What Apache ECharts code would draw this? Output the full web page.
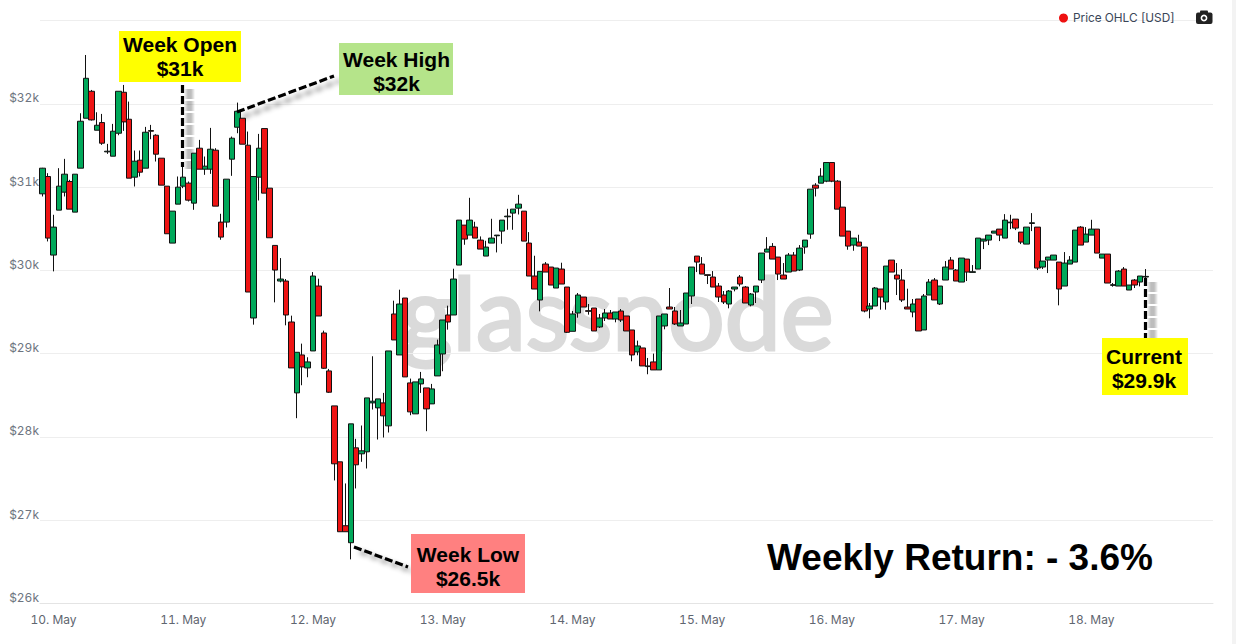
<!DOCTYPE html>
<html><head><meta charset="utf-8">
<style>html,body{margin:0;padding:0;background:#fff;font-variant-numeric:tabular-nums;font-feature-settings:"tnum"}#c{width:1236px;height:644px}</style>
<script src="https://cdn.jsdelivr.net/npm/echarts@6/dist/echarts.min.js"></script>
</head><body><div id="c"></div>
<script>
const dayLabels=['10. May','11. May','12. May','13. May','14. May','15. May','16. May','17. May','18. May'];
const yTicks=[26000,27000,28000,29000,30000,31000,32000,33000];
const opens=[30920,31128,30184,30724,30940,31068,30700,31228,31828,32152,
31684,31776,31424,31372,31648,32140,31816,31120,31324,31228,
31680,31624,31348,31012,30328,30796,31012,31048,30808,31468,
31216,31216,31444,30580,30580,31336,31720,31828,31504,29428,
31120,31704,30988,30300,29872,29872,29380,28528,28984,28828,
29032,29812,29248,28792,28372,27700,26932,26728,27868,27796,
27820,28408,28348,28408,28132,29476,28984,29668,28648,28276,
28636,28588,28396,28732,28996,29464,29464,30064,30544,30424,
30520,30364,30172,30328,30416,30472,30644,30688,30748,30712,
30328,29932,29644,30076,30040,29788,30016,29800,29268,29488,
29680,29516,29548,29320,29428,29488,29416,29512,29452,29284,
29020,29068,28852,28900,28804,29332,29560,29512,29332,29356,
29692,30172,30076,29948,29920,29812,29704,29596,29776,29920,
29800,29584,29740,29884,30220,30288,30160,29944,29980,30184,
30004,30280,30436,31024,31048,31072,31296,31072,30760,30472,
30304,30340,30280,29536,29572,29776,29620,30124,29944,29884,
29560,29500,29656,29284,29704,29884,29596,29884,30124,30004,
29860,30136,29976,30016,30352,30364,30448,30496,30388,30572,
30616,30460,30316,30564,30520,30040,30124,30124,30100,29812,
30076,30100,30520,30340,30424,30496,30148,30196,29820,29812,
30016,29764,29884,29860,29920];
const closes=[31228,30388,30520,31012,31156,30736,31156,31792,32308,31808,
31744,31528,31432,31672,32152,31784,31108,31312,31180,31660,
31672,31396,31024,30440,30712,31000,31120,30844,31408,31216,
31252,31456,30772,30400,31096,31588,31912,31516,29740,31128,
31468,30928,30392,30004,29896,29464,28828,29016,28840,28900,
29932,29452,28824,28536,27676,26860,26860,28156,27664,27832,
28468,28428,28456,28252,29032,29164,29596,28720,28300,28660,
28696,28336,28576,29104,29404,29380,29896,30604,30376,30604,
30388,30256,30280,30388,30424,30604,30652,30736,30796,30352,
29932,29776,29988,29980,29824,30028,29836,29256,29476,29704,
29560,29508,29272,29428,29488,29416,29500,29404,29272,28984,
29092,28852,28844,28804,29452,29476,29536,29356,29368,29728,
30040,30100,29956,29940,29800,29680,29620,29752,29800,29836,
29608,29716,29812,30208,30256,30136,29956,29896,30184,29992,
30268,30364,30976,30988,31132,31296,31072,30736,30412,30292,
30388,30292,29512,29572,29788,29680,30052,29980,29896,29644,
29536,29596,29272,29692,29860,29644,29812,30040,30016,29872,
30148,29980,29984,30388,30376,30424,30472,30424,30604,30580,
30508,30340,30520,30572,30028,30112,30160,30184,29776,30088,
30124,30484,30304,30436,30496,30208,30196,29848,29828,29992,
29812,29824,29824,29932,29928];
const highs=[31232,31168,30668,31228,31340,31088,31156,31888,32588,32168,
31900,31880,31520,31760,32152,32228,32028,31440,31440,31724,
31748,31636,31348,31012,30712,31128,31248,31068,31408,31568,
31368,31712,31468,30680,31096,31608,32016,31828,31668,31128,
31640,31704,30988,30300,30148,29896,29456,29016,29120,28956,
29980,29900,29276,28816,28372,27700,27440,28156,27976,28136,
28468,28968,28456,28528,29032,29636,29768,29668,28700,28660,
28780,28588,28636,29168,29404,29576,30020,30604,30544,30872,
30584,30408,30356,30620,30424,30604,30740,30736,30908,30712,
30460,30176,29988,30100,30040,30028,30092,29800,29512,29728,
29680,29596,29548,29476,29536,29524,29500,29536,29452,29284,
29156,29068,28948,29000,29452,29476,29788,29560,29524,29728,
30040,30172,30160,29948,29992,29848,29752,29764,29800,29944,
29812,29728,29812,30208,30400,30328,30160,30088,30208,30220,
30304,30364,30976,31048,31228,31296,31296,31084,30760,30472,
30388,30428,30280,29608,29800,29776,30052,30124,30088,30016,
29780,29656,29656,29716,29896,29908,29812,30112,30160,30016,
30148,30136,30064,30388,30376,30424,30472,30496,30676,30668,
30616,30460,30520,30688,30520,30112,30160,30184,30100,30220,
30172,30484,30532,30520,30608,30496,30196,30196,29848,30004,
30040,29824,29896,29932,30016];
const lows=[30888,30348,29988,30724,30888,30736,30700,31228,31828,31800,
31684,31508,31400,31372,31624,31676,31108,31008,31128,31228,
31576,31308,31024,30440,30328,30796,30988,30828,30728,31216,
31148,31160,30772,30368,30516,31136,31648,31516,29740,29348,
30840,30928,30392,29616,29856,29340,28828,28224,28620,28716,
29032,29452,28816,28528,27476,26860,26860,26528,27380,27700,
27620,28328,27968,27992,28052,29164,28984,28720,28260,28276,
28528,28068,28396,28732,28788,29288,29464,30064,30308,30424,
30388,30256,30172,30328,30216,30320,30488,30488,30672,30352,
29932,29776,29508,29980,29824,29788,29836,29248,29268,29432,
29560,29468,29272,29308,29392,29416,29376,29380,29272,28908,
28980,28852,28752,28804,28804,29292,29536,29344,29332,29356,
29596,29980,29956,29836,29800,29620,29596,29544,29748,29808,
29608,29568,29608,29848,30220,30136,29884,29896,29980,29992,
29992,30200,30380,30888,31048,31060,31060,30736,30412,30248,
30236,30292,29496,29424,29572,29528,29528,29980,29704,29620,
29536,29436,29272,29284,29704,29644,29584,29884,30016,29872,
29860,29872,29976,30016,30256,30304,30448,30352,30388,30496,
30484,30316,30316,30472,30004,30016,29968,30124,29580,29812,
30076,30100,30304,30340,30424,30208,30148,29848,29804,29812,
29812,29764,29788,29808,29868];

const seriesName='Price OHLC [USD]';
const FIRST_DAY_INDEX=2, HOURS_PER_DAY=24, SLOTS=217;
const categories=[];
for(let i=0;i<SLOTS;i++){
  const k=i-FIRST_DAY_INDEX;
  categories.push(k>=0&&k%HOURS_PER_DAY===0&&dayLabels[k/HOURS_PER_DAY]?dayLabels[k/HOURS_PER_DAY]:'h'+i);
}
const candles=opens.map((o,i)=>[o,closes[i],lows[i],highs[i]]);
const isDay=i=>(i-FIRST_DAY_INDEX)%HOURS_PER_DAY===0&&i>=FIRST_DAY_INDEX&&dayLabels.includes(categories[i]);

const ARIAL='"Liberation Sans",Arial,sans-serif';
function box(x,y,w,h,fill,text,cx,cy){
  return [
    {type:'rect',shape:{x,y,width:w,height:h},style:{fill},z:10},
    {type:'text',x:cx,y:cy,z:11,style:{text,fill:'#000',font:'bold 21px '+ARIAL,align:'center',verticalAlign:'middle',lineHeight:24}}
  ];
}
const DASH=[8,3];
function dash(x1,y1,x2,y2){
  return {type:'line',shape:{x1,y1,x2,y2},z:9,style:{stroke:'#000',lineWidth:3.2,lineDash:DASH,shadowBlur:5,shadowColor:'rgba(0,0,0,0.45)',shadowOffsetX:6,shadowOffsetY:5}};
}
/* vertical line: an SVG blur filter has no box to work in, so the soft shadow is stacked */
function vdash(x,y1,y2){
  const out=[];
  [10,8,6,4].forEach(w=>out.push({type:'line',shape:{x1:x+7,y1:y1+4,x2:x+7,y2:y2+2},z:4,
    style:{stroke:'rgba(0,0,0,0.07)',lineWidth:w,lineDash:[10,2]}}));
  out.push({type:'line',shape:{x1:x,y1,x2:x,y2},z:9,style:{stroke:'#000',lineWidth:3.2,lineDash:DASH}});
  return out;
}
const chart=echarts.init(document.getElementById('c'),null,{renderer:'svg'});
chart.setOption({
  animation:false,
  backgroundColor:'#fff',
  textStyle:{fontFamily:'Inter,sans-serif'},
  legend:{left:1054,top:7,icon:'circle',itemWidth:9,itemHeight:9,selectedMode:false,
    data:[{name:seriesName,itemStyle:{color:'#ee1111',borderWidth:0}}],
    textStyle:{color:'#3a4658',fontSize:11.8,fontFamily:'Inter,sans-serif'}},
  grid:{left:40,right:23,top:20.7,bottom:40.7},
  xAxis:{type:'category',data:categories,boundaryGap:true,
    axisLine:{lineStyle:{color:'#e4e4e4'}},
    axisTick:{alignWithLabel:true,length:10,interval:(i)=>isDay(i),lineStyle:{color:'#e4e4e4'}},
    axisLabel:{interval:(i)=>isDay(i),color:'#5f6670',fontSize:12,margin:10,hideOverlap:false},
    splitLine:{show:false}},
  yAxis:{type:'value',min:yTicks[0],max:yTicks[yTicks.length-1],interval:1000,
    axisLine:{show:false},axisTick:{show:false},
    axisLabel:{color:'#6d7480',fontSize:12,margin:1,verticalAlign:'bottom',formatter:v=>v>=yTicks[yTicks.length-1]?'':'$'+(v/1000)+'k'},
    splitLine:{lineStyle:{color:'#eeeeee'}}},
  series:[{name:seriesName,type:'candlestick',data:candles,barWidth:6,z:5,
    itemStyle:{color:'#00a85a',color0:'#ee1414',borderColor:'#111',borderColor0:'#111',borderWidth:1}}],
  graphic:[
    {type:'text',x:617,y:311,z:-1,silent:true,style:{text:'glassnode',fill:'#dadada',stroke:'#dadada',lineWidth:3,font:'400 100px Lato,sans-serif',align:'center',verticalAlign:'middle'}},
    {type:'rect',shape:{x:1232,y:0,width:4,height:644},style:{fill:'#f3f3f3'},z:1},
    {type:'rect',shape:{x:1196,y:12.5,width:16.5,height:11.5,r:2},style:{fill:'#222'},z:12},
    {type:'rect',shape:{x:1200,y:10.5,width:8,height:3,r:1},style:{fill:'#222'},z:12},
    {type:'circle',shape:{cx:1204,cy:18,r:2.6},style:{fill:'none',stroke:'#fff',lineWidth:1.6},z:13},
    ...vdash(182.5,85,167),
    dash(237,112,334,76),
    dash(354,547,408,567),
    ...vdash(1145.5,278,338),
    ...box(119,31,122,51,'#ffff00','Week Open\n$31k',180,56.5),
    ...box(339,43,114,52,'#b5e48a','Week High\n$32k',396.5,71),
    ...box(411,534,114,59,'#ff8080','Week Low\n$26.5k',468,566.5),
    ...box(1102,338,86,57,'#ffff00','Current\n$29.9k',1144,368.5),
    {type:'text',x:960,y:557,z:11,style:{text:'Weekly Return: - 3.6%',fill:'#000',font:'bold 37px '+ARIAL,align:'center',verticalAlign:'middle'}}
  ]
});
</script></body></html>
